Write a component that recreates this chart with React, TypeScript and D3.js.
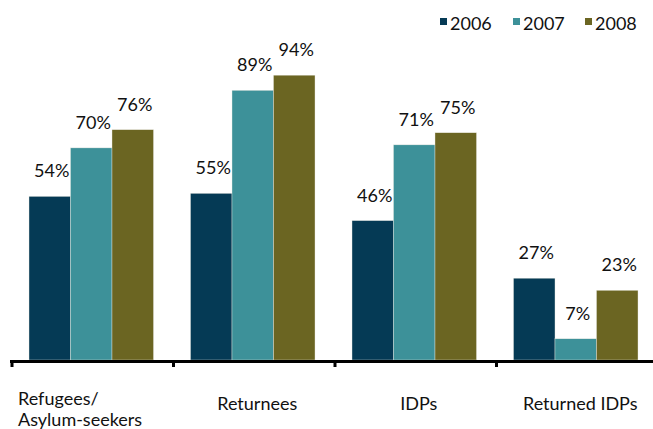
import React from "react";
import * as d3 from "d3";

const categories = ["Refugees/\nAsylum-seekers", "Returnees", "IDPs", "Returned IDPs"];
const years = ["2006", "2007", "2008"];
const values2006 = [54, 55, 46, 27];
const values2007 = [70, 89, 71, 7];
const values2008 = [76, 94, 75, 23];
const colors = ["#053a55", "#3d9199", "#6b6522"];

const W = 653;
const H = 429;
const FONT = "Lato, 'Open Sans', sans-serif";

const App = () => {
  const series = [values2006, values2007, values2008];

  const x0 = d3.scaleBand().domain(categories).range([11, 657]).padding(0);
  const x1 = d3.scaleBand().domain(years).range([18, x0.bandwidth() - 19]).padding(0);
  const y = d3.scaleLinear().domain([0, 100]).range([360, 57]);

  const legendX = [440, 513, 585];

  return (
    <svg width={W} height={H} style={{ display: "block", position: "absolute", left: 0, top: 0 }}>
      <rect width={W} height={H} fill="#ffffff" />
      {categories.map((cat, ci) => (
        <g key={cat} transform={`translate(${x0(cat)},0)`}>
          {years.map((yr, si) => {
            const v = series[si][ci];
            const bx = x1(yr) as number;
            return (
              <g key={yr}>
                <rect
                  x={bx}
                  y={y(v)}
                  width={x1.bandwidth()}
                  height={y(0) - y(v)}
                  fill={colors[si]}
                  stroke="#e8e8e0"
                  strokeWidth={0.4}
                />
                <text
                  x={bx + x1.bandwidth() / 2 + 2}
                  y={y(v) - 19}
                  textAnchor="middle"
                  fontFamily={FONT}
                  fontSize={18}
                  fill="#111"
                >
                  {v}%
                </text>
              </g>
            );
          })}
        </g>
      ))}

      {/* axis */}
      <line x1={10} x2={653} y1={361.5} y2={361.5} stroke="#000" strokeWidth={3} />
      {[...categories.map((c) => x0(c) as number)].map((tx, i) => (
        <rect key={i} x={tx - 0.5} y={361} width={3} height={6} fill="#000" />
      ))}

      {/* category labels */}
      {categories.map((cat, ci) => {
        const lines = cat.split("\n");
        const cx = (x0(cat) as number) + x0.bandwidth() / 2;
        if (lines.length > 1) {
          return (
            <text key={cat} fontFamily={FONT} fontSize={18} fill="#111">
              <tspan x={(x0(cat) as number) + 7} y={405}>{lines[0]}</tspan>
              <tspan x={(x0(cat) as number) + 7} y={426}>{lines[1]}</tspan>
            </text>
          );
        }
        return (
          <text key={cat} x={cx + 4} y={410} textAnchor="middle" fontFamily={FONT} fontSize={18} fill="#111">
            {cat}
          </text>
        );
      })}

      {/* legend */}
      {years.map((yr, i) => (
        <g key={yr}>
          <rect x={legendX[i]} y={18} width={7} height={7} fill={colors[i]} />
          <text x={legendX[i] + 10} y={30} fontFamily={FONT} fontSize={18} fill="#111">
            {yr}
          </text>
        </g>
      ))}
    </svg>
  );
};

export default App;
